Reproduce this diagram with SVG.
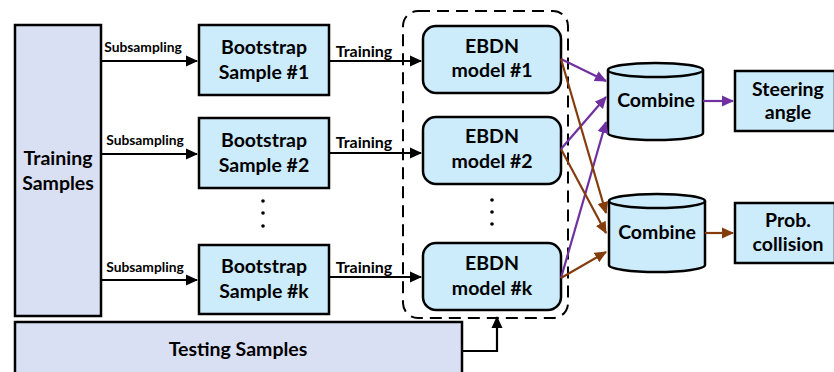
<svg xmlns="http://www.w3.org/2000/svg" width="834" height="372" viewBox="0 0 834 372">
<defs>
<style>
.lav{fill:#DAE0F3;stroke:#000;stroke-width:2.5}
.blue{fill:#CCECFC;stroke:#000;stroke-width:2.5}
.t{font-family:Lato,"Open Sans",sans-serif;font-weight:bold;fill:#000;text-anchor:middle}
.big{font-size:19.5px}
.sm{font-size:13.8px}
.mid{font-size:16px}
.k{stroke:#000;stroke-width:2.2;fill:none}
.p{stroke:#7030A0;stroke-width:2.2;fill:none}
.b{stroke:#843C0C;stroke-width:2.2;fill:none}
.dash{fill:none;stroke:#000;stroke-width:2;stroke-dasharray:12,7}
</style>
<marker id="ak" markerWidth="12" markerHeight="12" refX="11" refY="6" orient="auto" markerUnits="userSpaceOnUse" viewBox="0 0 12 12"><path d="M0,0.5 L12,6 L0,11.5 z" fill="#000"/></marker>
<marker id="ap" markerWidth="12" markerHeight="12" refX="11" refY="6" orient="auto" markerUnits="userSpaceOnUse" viewBox="0 0 12 12"><path d="M0,0.5 L12,6 L0,11.5 z" fill="#7030A0"/></marker>
<marker id="ab" markerWidth="12" markerHeight="12" refX="11" refY="6" orient="auto" markerUnits="userSpaceOnUse" viewBox="0 0 12 12"><path d="M0,0.5 L12,6 L0,11.5 z" fill="#843C0C"/></marker>
</defs>
<rect width="834" height="372" fill="#fff"/>

<g id="ensemble">
<rect class="dash" x="403" y="11" width="165" height="307" rx="15"/>
</g>

<g id="training-samples">
<rect class="lav" x="15" y="25" width="86" height="291"/>
<text class="t big" x="58" y="165">Training</text>
<text class="t big" x="58" y="190">Samples</text>
</g>

<g id="testing-samples">
<rect class="lav" x="15" y="322" width="447" height="60"/>
<text class="t big" x="238" y="356">Testing Samples</text>
</g>

<g id="bootstrap-1">
<rect class="blue" x="199" y="25" width="130" height="70"/>
<text class="t big" x="264" y="54">Bootstrap</text>
<text class="t big" x="264" y="79">Sample #1</text>
</g>
<g id="bootstrap-2">
<rect class="blue" x="199" y="118" width="130" height="70"/>
<text class="t big" x="264" y="147">Bootstrap</text>
<text class="t big" x="264" y="172">Sample #2</text>
</g>
<g id="bootstrap-k">
<rect class="blue" x="199" y="245" width="130" height="69"/>
<text class="t big" x="264" y="273">Bootstrap</text>
<text class="t big" x="264" y="298">Sample #k</text>
</g>
<g id="dots-bootstrap" fill="#000">
<circle cx="263" cy="201" r="1.8"/><circle cx="263" cy="213" r="1.8"/><circle cx="263" cy="226" r="1.8"/>
</g>

<g id="ebdn-1">
<rect class="blue" x="423" y="26" width="138" height="67" rx="13"/>
<text class="t big" x="492" y="53">EBDN</text>
<text class="t big" x="492" y="77">model #1</text>
</g>
<g id="ebdn-2">
<rect class="blue" x="423" y="117" width="138" height="67" rx="13"/>
<text class="t big" x="492" y="143">EBDN</text>
<text class="t big" x="492" y="168">model #2</text>
</g>
<g id="ebdn-k">
<rect class="blue" x="423" y="243" width="138" height="67" rx="13"/>
<text class="t big" x="492" y="270">EBDN</text>
<text class="t big" x="492" y="295">model #k</text>
</g>
<g id="dots-ebdn" fill="#000">
<circle cx="492" cy="200" r="1.8"/><circle cx="492" cy="212" r="1.8"/><circle cx="492" cy="224" r="1.8"/>
</g>

<g id="combine-1">
<path class="blue" d="M608,70 L608,133 A47.5,7 0 0 0 703,133 L703,70"/>
<ellipse class="blue" cx="655.5" cy="70" rx="47.5" ry="7"/>
<text class="t big" x="656" y="107">Combine</text>
</g>
<g id="combine-2">
<path class="blue" d="M609,201 L609,265 A48,7 0 0 0 705,265 L705,201"/>
<ellipse class="blue" cx="657" cy="201" rx="48" ry="7"/>
<text class="t big" x="657" y="239">Combine</text>
</g>

<g id="steering-angle">
<rect class="blue" x="735" y="71" width="100" height="60"/>
<text class="t big" x="788" y="96">Steering</text>
<text class="t big" x="788" y="119">angle</text>
</g>
<g id="prob-collision">
<rect class="blue" x="735" y="203" width="100" height="60"/>
<text class="t big" x="788" y="227">Prob.</text>
<text class="t big" x="788" y="251">collision</text>
</g>

<g id="connectors">
<path class="k" d="M101,61 H197" marker-end="url(#ak)"/>
<path class="k" d="M101,154 H197" marker-end="url(#ak)"/>
<path class="k" d="M101,280 H197" marker-end="url(#ak)"/>
<path class="k" d="M329,61 H421" marker-end="url(#ak)"/>
<path class="k" d="M329,153 H421" marker-end="url(#ak)"/>
<path class="k" d="M329,277 H421" marker-end="url(#ak)"/>
<path class="k" d="M462,351 H497 V317" marker-end="url(#ak)"/>
<path class="p" d="M561,59 L606,81" marker-end="url(#ap)"/>
<path class="p" d="M561,149 L606,97" marker-end="url(#ap)"/>
<path class="p" d="M561,278 L606,122" marker-end="url(#ap)"/>
<path class="b" d="M561,59 L606,213" marker-end="url(#ab)"/>
<path class="b" d="M561,149 L606,233" marker-end="url(#ab)"/>
<path class="b" d="M561,278 L606,252" marker-end="url(#ab)"/>
<path class="p" d="M703,101 H733" marker-end="url(#ap)"/>
<path class="b" d="M705,233 H733" marker-end="url(#ab)"/>
<text class="t sm" x="143" y="52">Subsampling</text>
<text class="t sm" x="145" y="145">Subsampling</text>
<text class="t sm" x="145" y="272">Subsampling</text>
<text class="t mid" x="364" y="57">Training</text>
<text class="t mid" x="364" y="148">Training</text>
<text class="t mid" x="364" y="273">Training</text>
</g>
</svg>
